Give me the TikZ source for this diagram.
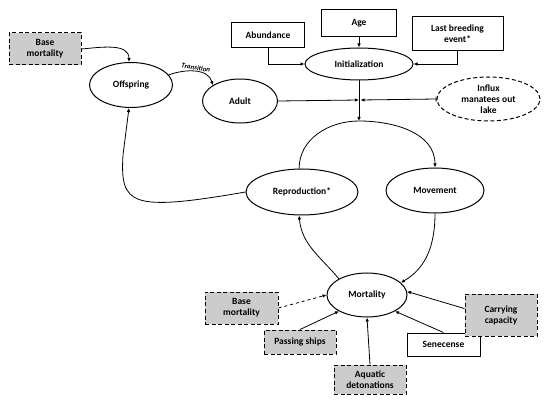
\documentclass[tikz,border=0pt]{standalone}
\usepackage{fontspec}
\setmainfont{Carlito}
\usetikzlibrary{shapes.geometric,arrows.meta}

\begin{document}
\begin{tikzpicture}[x=1pt, y=-1pt,
  every node/.style={font=\bfseries\fontsize{9.5}{11}\selectfont, align=center, inner sep=1pt},
  box/.style={draw, line width=1pt, rectangle},
  dbox/.style={box, dash pattern=on 4pt off 2.5pt, fill=black!20},
  oval/.style={draw, line width=1pt, ellipse},
  doval/.style={oval, dash pattern=on 4pt off 2.5pt},
  arr/.style={line width=0.8pt, -{Latex[length=4pt,width=3.5pt]}}]
\useasboundingbox (0,0) rectangle (550,404);
% Sommets
\node[dbox, minimum width=72, minimum height=32] (bmtop) at (45,49) {Base\\mortality};
\node[oval, minimum width=83, minimum height=45] (offspring) at (131,85) {Offspring};
\node[oval, minimum width=75, minimum height=44] (adult) at (240,101) {Adult};
\node[box, minimum width=73, minimum height=25] (abund) at (268,35.5) {Abundance};
\node[box, minimum width=75, minimum height=27] (age) at (359,23.5) {Age};
\node[box, minimum width=91, minimum height=34] (lastbr) at (457.5,34) {Last breeding\\event*};
\node[oval, minimum width=108, minimum height=32] (init) at (359,64) {Initialization};
\node[doval, minimum width=103, minimum height=44] (influx) at (488.5,99) {Influx\\manatees out\\lake};
\node[oval, minimum width=112, minimum height=46] (repro) at (302,192) {Reproduction*};
\node[oval, minimum width=98, minimum height=45] (move) at (435,190.5) {Movement};
\node[oval, minimum width=80, minimum height=44] (mort) at (367,295) {Mortality};
\node[dbox, minimum width=73, minimum height=32] (bmbot) at (241.5,308) {Base\\mortality};
\node[dbox, minimum width=72, minimum height=24] (ships) at (300,342) {Passing ships};
\node[dbox, minimum width=72, minimum height=29] (aquatic) at (370,379.5) {Aquatic\\detonations};
\node[box, minimum width=73, minimum height=23] (senec) at (443.5,344.5) {Senecense};
\node[dbox, minimum width=72, minimum height=42] (carry) at (501,315) {Carrying\\capacity};
\coordinate (merge) at (359,100);
\coordinate (apex) at (359,121);
% Liens
\draw[arr] (bmtop.east) to[out=5,in=90] (offspring.95);
\draw[arr] (offspring.15) to[out=20,in=105] node[midway, sloped, above, font=\bfseries\itshape\fontsize{7}{8}\selectfont] {Transition} (adult.150);
\draw[arr] (abund.south) |- (init.west);
\draw[arr] (age.south) -- (init.north);
\draw[arr] (lastbr.south) |- (init.east);
\draw[arr] (adult.east) -- (merge);
\draw[line width=0.8pt, {Bar[width=5pt]}-{Latex[length=4pt,width=3.5pt]}] (influx.west) -- ([xshift=1.5pt]merge);
\draw[arr] (init.south) -- (apex);
\draw[arr] (repro.97) to[out=90,in=180] (apex) to[out=0,in=90] (move.north);
\draw[arr] (repro.west) .. controls (130,212) and (120,205) .. (123,155) -- (offspring.-95);
\draw[arr] (move.south) to[out=-90,in=30] (mort.20);
\draw[arr] (mort.150) to[out=130,in=-85] (repro.-97);
\draw[arr, dashed] (bmbot.east) -- (mort.west);
\draw[arr] (ships.north) -- (mort.-150);
\draw[arr] (aquatic.north) -- (mort.south);
\draw[arr] (senec.north) -- (mort.-30);
\draw[arr] (carry.170) -- (mort.5);
\end{tikzpicture}
\end{document}
